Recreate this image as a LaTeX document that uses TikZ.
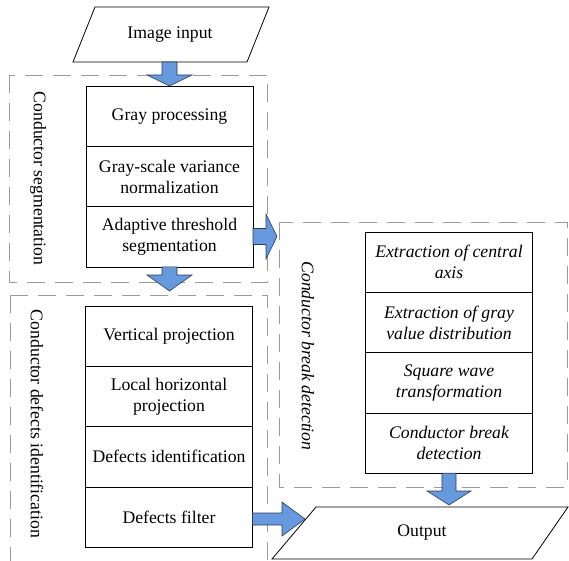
\documentclass[tikz,border=0pt]{standalone}
\usepackage{fontspec}
\setmainfont{Liberation Serif}
\usetikzlibrary{calc}

\newcommand\diagfont{\fontsize{17.7}{21}\selectfont}

\tikzset{
  stage/.style={draw, line width=0.8pt, minimum width=167pt, minimum height=60.3pt,
    inner sep=0pt, outer sep=0pt, align=center, font=\diagfont},
  stagei/.style={stage, font=\diagfont\itshape},
  group/.style={draw={rgb,255:red,155;green,155;blue,155}, line width=0.8pt,
    dash pattern=on 18pt off 10pt},
  grouplabel/.style={rotate=-90, font=\diagfont, inner sep=0pt},
  blockarrow/.style={fill={rgb,255:red,102;green,153;blue,221},
    draw={rgb,255:red,45;green,60;blue,90}, line width=0.6pt, line join=miter},
  io/.style={draw, line width=0.8pt, line join=miter},
}

% block arrow pointing down: start, tip, shaft half width, head half width, head length
\newcommand\blockdown[5]{%
  \draw[blockarrow] let \p1=(#1), \p2=(#2) in
    (\x1-#3pt,\y1) -- (\x1+#3pt,\y1) -- (\x1+#3pt,\y2+#5pt) -- (\x1+#4pt,\y2+#5pt)
    -- (\x1,\y2) -- (\x1-#4pt,\y2+#5pt) -- (\x1-#3pt,\y2+#5pt) -- cycle;}

% block arrow pointing right: start, tip, shaft half width, head half width, head length
\newcommand\blockright[5]{%
  \draw[blockarrow] let \p1=(#1), \p2=(#2) in
    (\x1,\y1+#3pt) -- (\x2-#5pt,\y1+#3pt) -- (\x2-#5pt,\y1+#4pt) -- (\x2,\y1)
    -- (\x2-#5pt,\y1-#4pt) -- (\x2-#5pt,\y1-#3pt) -- (\x1,\y1-#3pt) -- cycle;}

\begin{document}
\begin{tikzpicture}[x=1pt,y=1pt]
\useasboundingbox (0,0) rectangle (569,560);

% dashed stage groups
\draw[group] (9.5,485) rectangle (267,278);
\draw[group] (10,265) rectangle (267,-5);
\draw[group] (279,338) rectangle (567,73);

\node[grouplabel] (lseg) at (38,381.5) {Conductor segmentation};
\node[grouplabel] (ldef) at (37,136) {Conductor defects identification};
\node[grouplabel, font=\diagfont\itshape] (lbrk) at (308,204) {Conductor break detection};

% input
\draw[io] (73,498) -- (247,498) -- (269,553) -- (95,553) -- cycle;
\node[font=\diagfont, minimum width=150pt, minimum height=55pt, inner sep=0pt, outer sep=0pt]
  (input) at (170,525.5) {Image input};

% conductor segmentation
\node[stage, anchor=north] (b1) at (169.5,474) {Gray processing};
\node[stage, anchor=north] (b2) at (b1.south) {Gray-scale variance\\normalization};
\node[stage, anchor=north] (b3) at (b2.south) {Adaptive threshold\\segmentation};

% conductor defects identification
\node[stage, anchor=north] (d1) at (169,254) {Vertical projection};
\node[stage, anchor=north] (d2) at (d1.south) {Local horizontal\\projection};
\node[stage, anchor=north] (d3) at (d2.south) {Defects identification};
\node[stage, anchor=north] (d4) at (d3.south) {Defects filter};

% conductor break detection
\node[stagei, anchor=north] (c1) at (449,328) {Extraction of central\\axis};
\node[stagei, anchor=north] (c2) at (c1.south) {Extraction of gray\\value distribution};
\node[stagei, anchor=north] (c3) at (c2.south) {Square wave\\transformation};
\node[stagei, anchor=north] (c4) at (c3.south) {Conductor break\\detection};

% output
\draw[io] (272,1) -- (532,1) -- (568,53) -- (316,53) -- cycle;
\node[font=\diagfont, minimum width=230pt, minimum height=52pt, inner sep=0pt, outer sep=0pt]
  (out) at (422,27) {Output};

% arrow tips
\coordinate (t2) at (169.5,269);
\coordinate (t1r) at (277,323.5);
\coordinate (t3) at (449,55);
\coordinate (t4) at (305,41);

% flow arrows
\blockdown{b1.north |- input.south}{b1.north}{7.5}{22.5}{11}
\blockdown{b3.south}{t2}{7.5}{22.5}{16}
\blockright{b3.east |- t1r}{t1r}{8}{22.5}{11}
\blockdown{c4.south}{t3}{7}{22}{14}
\blockright{d4.east |- t4}{t4}{6}{17}{23}
\end{tikzpicture}
\end{document}
